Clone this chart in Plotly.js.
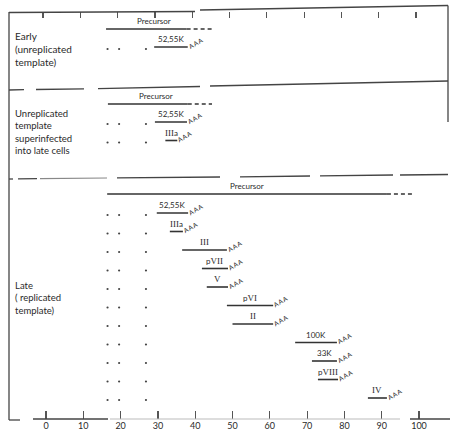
<!DOCTYPE html>
<html><head><meta charset="utf-8">
<script src="https://cdn.plot.ly/plotly-3.0.1.min.js"></script>
<style>body{margin:0;background:#fff}#c{width:450px;height:430px}</style>
</head><body><div id="c"></div>
<script>
// ---- data (map units, 0-100) ----
const xTicks = [0,10,20,30,40,50,60,70,80,90,100];
const leaderSites = [16.5, 19.6, 26.8];

const earlyPrecursor = [16.1, 37.7];
const earlyPrecursorTail = [37.7, 44.8];
const earlyNames = ['52,55K'];
const earlyStart = [29.0];
const earlyEnd = [38.0];

const superPrecursor = [16.6, 38.0];
const superPrecursorTail = [38.0, 44.5];
const superNames = ['52,55K', 'IIIa'];
const superStart = [29.2, 32.0];
const superEnd = [37.8, 35.2];

const latePrecursor = [16.4, 91.4];
const latePrecursorTail = [91.4, 98.5];
const lateNames = ['52,55K','IIIa','III','pVII','V','pVI','II','100K','33K','pVIII','IV'];
const lateStart = [29.7, 33.2, 36.5, 41.8, 43.1, 48.5, 50.0, 66.8, 71.3, 72.9, 86.3];
const lateEnd   = [38.1, 36.7, 48.5, 48.8, 48.8, 60.9, 60.9, 78.0, 78.0, 78.3, 91.4];

const sectionLabels = ['Early<br>(unreplicated<br>template)',
  'Unreplicated<br>template<br>superinfected<br>into late cells',
  'Late<br>( replicated<br>template)'];

// ---- layout helpers ----
const FONT = 'Lato, "Open Sans", sans-serif';
const SERIF = '"Liberation Serif", "DejaVu Serif", serif';
const INK = '#2a2a2a';
const pxToX = px => (px - 46) / 3.73;

const sections = [
  {pre: earlyPrecursor, tail: earlyPrecursorTail, names: earlyNames, s: earlyStart, e: earlyEnd, preY: 29, row0: 47, step: 18.5, labY: 49, labSize: 10, preFrac: 0.6},
  {pre: superPrecursor, tail: superPrecursorTail, names: superNames, s: superStart, e: superEnd, preY: 104, row0: 122, step: 18.5, labY: 132, labSize: 9.5, preFrac: 0.6},
  {pre: latePrecursor, tail: latePrecursorTail, names: lateNames, s: lateStart, e: lateEnd, preY: 194, row0: 213, step: 18.5, labY: 298, labSize: 9.5, preFrac: 0.5}
];

// roman numerals in a serif face, the rest in sans
function fmtName(nm) {
  return nm.replace(/[IVX]+/g, m => '<span style="font-family:' + SERIF.replace(/"/g, "'") + ';font-size:9px">' + m + '</span>');
}

const traces = [];
const annotations = [];
const solidX = [], solidY = [], dashX = [], dashY = [], dotX = [], dotY = [];

sections.forEach((sec, si) => {
  solidX.push(sec.pre[0], sec.pre[1], null); solidY.push(sec.preY, sec.preY, null);
  dashX.push(sec.tail[0], sec.tail[1], null); dashY.push(sec.preY, sec.preY, null);
  annotations.push({x: sec.pre[0] + sec.preFrac * (sec.pre[1] - sec.pre[0]), y: sec.preY - 1, text: 'Precursor',
    showarrow: false, yanchor: 'bottom', font: {size: 8, family: FONT, color: INK}});
  annotations.push({x: pxToX(13), y: sec.labY, text: sectionLabels[si], showarrow: false,
    xanchor: 'left', yanchor: 'middle', align: 'left', font: {size: sec.labSize, family: FONT, color: INK}});
  sec.names.forEach((nm, i) => {
    const y = sec.row0 + i * sec.step;
    solidX.push(sec.s[i], sec.e[i], null); solidY.push(y, y, null);
    leaderSites.forEach(l => { dotX.push(l); dotY.push(y + 2); });
    annotations.push({x: (sec.s[i] + sec.e[i]) / 2, y: y - 1, text: fmtName(nm), showarrow: false,
      yanchor: 'bottom', font: {size: 8, family: FONT, color: INK}});
    annotations.push({x: sec.e[i] + 2.0, y: y - 4, text: 'A\u2009A\u2009A', showarrow: false, textangle: -30,
      font: {size: 6.5, family: FONT, color: INK}});
  });
});

traces.push({x: solidX, y: solidY, mode: 'lines', line: {color: '#333', width: 1.6}, hoverinfo: 'skip'});
traces.push({x: dashX, y: dashY, mode: 'lines', line: {color: '#333', width: 1.6, dash: '4px,3px'}, hoverinfo: 'skip'});
traces.push({x: dotX, y: dotY, mode: 'markers', marker: {color: '#444', size: 2.2}, hoverinfo: 'skip'});

// ---- frame pieces (decorative, paper coords so they are not clipped) ----
const PT = 12, PB = 419;
const py = ypx => (PB - ypx) / (PB - PT);
const ln = (x0, y0, x1, y1, w, c) => ({type: 'line', xref: 'paper', yref: 'paper', x0: x0 / 450, x1: x1 / 450, y0: py(y0), y1: py(y1),
  line: {color: c || '#444', width: w || 1.3}});
const shapes = [
  ln(9, 12, 9, 420), ln(9, 420, 20, 420),
  ln(9, 12.5, 195, 11.5), ln(200, 10, 448, 5.5), ln(448, 5.5, 448, 122),
  // divider 1
  ln(9, 90, 24, 89.7), ln(36, 89.5, 84, 88.8), ln(98, 88.6, 200, 86.5), ln(210, 86, 448, 81),
  // divider 2
  ln(9, 179, 13, 179), ln(18, 178.8, 37, 178.6), ln(40, 178.6, 107, 178, 1.2, '#888'), ln(117, 177.8, 220, 177),
  ln(240, 176.8, 310, 176), ln(320, 175.8, 393, 175), ln(400, 175, 448, 174.5),
  // bottom axis line
  ln(33, 419, 108, 419), ln(110, 419, 400, 419, 1.2, '#bbb'), ln(410, 419, 450, 419)
];

const layout = {
  width: 450, height: 430,
  margin: {l: 0, r: 0, t: PT, b: 430 - PB},
  paper_bgcolor: '#fff', plot_bgcolor: '#fff',
  showlegend: false,
  xaxis: {range: [pxToX(0), pxToX(450)], tickvals: xTicks, ticktext: xTicks.map(String),
    ticks: 'inside', ticklen: 8, tickwidth: 1.2, tickcolor: '#555', showgrid: false, zeroline: false,
    showline: false, tickfont: {size: 9, family: FONT, color: INK}},
  xaxis2: {overlaying: 'x', matches: 'x', side: 'top', tickvals: xTicks.map(v => v - 0.8), ticks: 'inside', ticklen: 6,
    tickwidth: 1.2, tickcolor: '#555', showticklabels: false, showgrid: false, zeroline: false, showline: false},
  yaxis: {range: [PB, PT], visible: false, fixedrange: true},
  shapes: shapes,
  annotations: annotations
};
traces.push({x: [0], y: [-100], xaxis: 'x2', mode: 'markers', marker: {opacity: 0}, hoverinfo: 'skip'});

Plotly.newPlot('c', traces, layout, {staticPlot: true});
</script></body></html>
